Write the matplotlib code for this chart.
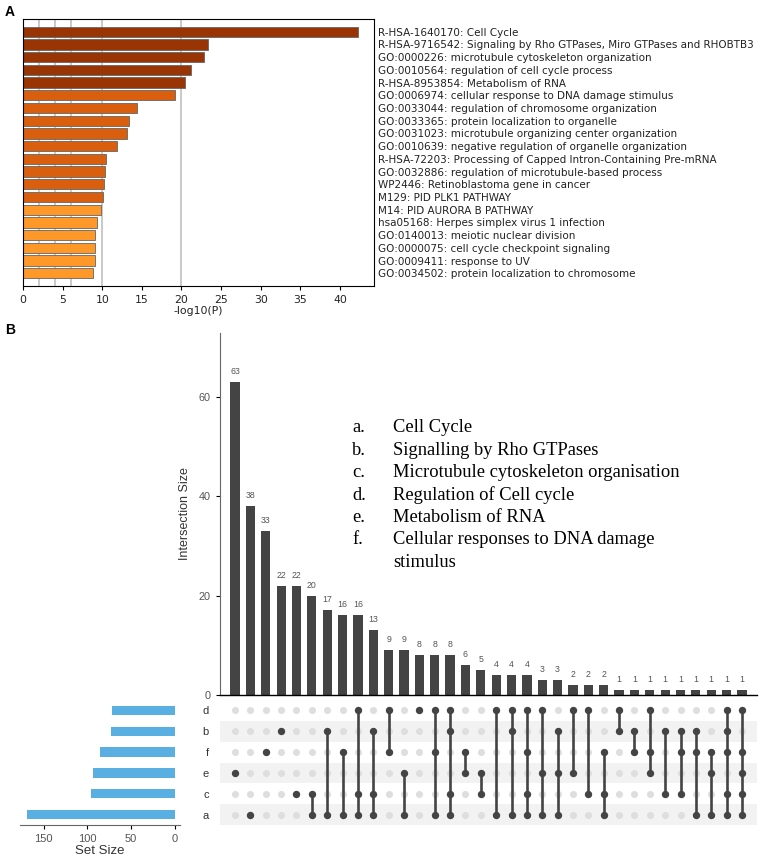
import numpy as np
import matplotlib
matplotlib.use("Agg")
import matplotlib.pyplot as plt

# ---- panel A data ----
terms = [
    "R-HSA-1640170: Cell Cycle",
    "R-HSA-9716542: Signaling by Rho GTPases, Miro GTPases and RHOBTB3",
    "GO:0000226: microtubule cytoskeleton organization",
    "GO:0010564: regulation of cell cycle process",
    "R-HSA-8953854: Metabolism of RNA",
    "GO:0006974: cellular response to DNA damage stimulus",
    "GO:0033044: regulation of chromosome organization",
    "GO:0033365: protein localization to organelle",
    "GO:0031023: microtubule organizing center organization",
    "GO:0010639: negative regulation of organelle organization",
    "R-HSA-72203: Processing of Capped Intron-Containing Pre-mRNA",
    "GO:0032886: regulation of microtubule-based process",
    "WP2446: Retinoblastoma gene in cancer",
    "M129: PID PLK1 PATHWAY",
    "M14: PID AURORA B PATHWAY",
    "hsa05168: Herpes simplex virus 1 infection",
    "GO:0140013: meiotic nuclear division",
    "GO:0000075: cell cycle checkpoint signaling",
    "GO:0009411: response to UV",
    "GO:0034502: protein localization to chromosome",
]
logp = [42.3, 23.3, 22.8, 21.2, 20.4, 19.2, 14.4, 13.4, 13.1, 11.9,
        10.5, 10.35, 10.2, 10.15, 9.9, 9.35, 9.1, 9.1, 9.05, 8.8]
ref_lines = [2, 4, 6, 10, 20]

# ---- panel B data ----
set_rows = ["d", "b", "f", "e", "c", "a"]   # top to bottom
inter_sizes = [63, 38, 33, 22, 22, 20, 17, 16, 16, 13, 9, 9, 8, 8, 8, 6, 5,
               4, 4, 4, 3, 3, 2, 2, 2, 1, 1, 1, 1, 1, 1, 1, 1, 1]
inter_members = ["e", "a", "f", "b", "c", "ca", "ba", "fa", "dca", "bca",
                 "df", "ea", "d", "dfa", "dbca", "fe", "ec", "da", "dba",
                 "dfca", "dea", "bea", "de", "dc", "fca", "db", "bf", "dfe",
                 "bc", "bfc", "bfa", "fea", "dbfca", "dfeca"]
legend_keys = ["a.", "b.", "c.", "d.", "e.", "f."]
legend_names = ["Cell Cycle", "Signalling by Rho GTPases",
                "Microtubule cytoskeleton organisation",
                "Regulation of Cell cycle", "Metabolism of RNA",
                "Cellular responses to DNA damage\nstimulus"]

W, H = 760, 856
fig = plt.figure(figsize=(W / 100, H / 100), dpi=100)


def px_axes(left, top, right, bottom):
    return fig.add_axes([left / W, 1 - bottom / H, (right - left) / W, (bottom - top) / H])


# ================= A =================
axA = px_axes(23, 19, 374, 286)
cols = []
for v in logp:
    if v > 20:
        cols.append("#993404")
    elif v > 10:
        cols.append("#d95f0e")
    else:
        cols.append("#fe9929")
y = np.arange(len(terms))
for xv in ref_lines:
    axA.axvline(xv, color="#bbbbbb", lw=1.1, zorder=0)
axA.barh(y, logp, height=0.8, color=cols, edgecolor="#666666", linewidth=0.6, zorder=2)
axA.set_ylim(len(terms), -1)
axA.set_xlim(0, 44.3)
axA.set_yticks(y)
axA.set_yticklabels(terms, fontsize=7.5, family="DejaVu Sans", color="#222222")
axA.yaxis.tick_right()
axA.tick_params(axis="y", length=0, pad=3)
axA.set_xticks(np.arange(0, 45, 5))
axA.tick_params(axis="x", labelsize=7.8, length=3, labelcolor="#222222")
axA.set_xlabel("-log10(P)", fontsize=7.8, labelpad=1, color="#222222")
for s in axA.spines.values():
    s.set_linewidth(0.8)
fig.text(5 / W, 1 - 12 / H, "A", fontsize=10, fontweight="bold", va="center",
         family="Liberation Sans")

# ================= B =================
n = len(inter_sizes)
xs = np.arange(n)
xl = (-0.98, 33.98)

axI = px_axes(220, 333, 757, 695)
axI.bar(xs, inter_sizes, width=0.6, color="#444444")
for xi, v in zip(xs, inter_sizes):
    axI.text(xi, v + 1.2, str(v), ha="center", va="bottom", fontsize=6.3,
             color="#555555", family="Liberation Sans")
axI.set_xlim(*xl)
axI.set_ylim(0, 72.8)
axI.set_xticks([])
axI.set_yticks([0, 20, 40, 60])
axI.tick_params(axis="y", labelsize=7.8, labelcolor="#555555", length=3, width=0.8)
for lab in axI.get_yticklabels():
    lab.set_family("Liberation Sans")
axI.spines["top"].set_visible(False)
axI.spines["right"].set_visible(False)
axI.spines["left"].set_color("#666666")
axI.spines["bottom"].set_linewidth(1.0)
axI.set_ylabel("Intersection Size", fontsize=9, color="#333333",
               family="Liberation Sans", labelpad=6)

# legend text
line_h = 22.4
for i, (k, nm) in enumerate(zip(legend_keys, legend_names)):
    ty = 428 + i * line_h
    fig.text(352 / W, 1 - ty / H, k, fontsize=13.3, family="Liberation Serif",
             va="center")
    for j, part in enumerate(nm.split("\n")):
        fig.text(393 / W, 1 - (ty + j * line_h) / H, part, fontsize=13.3,
                 family="Liberation Serif", va="center")

# matrix
axM = px_axes(220, 700, 757, 825)
nr = len(set_rows)
axM.set_xlim(*xl)
axM.set_ylim(nr - 0.5, -0.5)
for r in range(nr):
    if r % 2 == 1:
        axM.axhspan(r - 0.5, r + 0.5, color="#f2f2f2", zorder=0, lw=0)
gx, gy = np.meshgrid(xs, np.arange(nr))
axM.scatter(gx.ravel(), gy.ravel(), s=26, color="#dedede", zorder=1, lw=0)
for xi, mem in zip(xs, inter_members):
    rows = [set_rows.index(c) for c in mem]
    if len(rows) > 1:
        axM.plot([xi, xi], [min(rows), max(rows)], color="#444444", lw=1.9, zorder=2)
    axM.scatter([xi] * len(rows), rows, s=28, color="#444444", zorder=3, lw=0)
axM.set_xticks([])
axM.set_yticks(np.arange(nr))
axM.set_yticklabels(set_rows, fontsize=8, color="#333333", family="Liberation Sans")
axM.tick_params(axis="y", length=0, pad=8)
for s in axM.spines.values():
    s.set_visible(False)

# set sizes
set_sizes = [sum(v for v, m in zip(inter_sizes, inter_members) if c in m) for c in set_rows]
axS = px_axes(20, 700, 180, 825)
axS.barh(np.arange(nr), set_sizes, height=0.45, color="#5aafe2")
axS.set_ylim(nr - 0.5, -0.5)
axS.set_xlim(177, -6)
axS.set_yticks([])
axS.set_xticks([150, 100, 50, 0])
axS.tick_params(axis="x", labelsize=8, labelcolor="#555555", length=3, width=0.8)
for lab in axS.get_xticklabels():
    lab.set_family("Liberation Sans")
for sp in ["top", "left", "right"]:
    axS.spines[sp].set_visible(False)
axS.spines["bottom"].set_color("#666666")
axS.set_xlabel("Set Size", fontsize=9.5, color="#333333", family="Liberation Sans", labelpad=1)

fig.text(5 / W, 1 - 330 / H, "B", fontsize=10, fontweight="bold", va="center",
         family="Liberation Sans")

fig.savefig("out.png", dpi=100)
